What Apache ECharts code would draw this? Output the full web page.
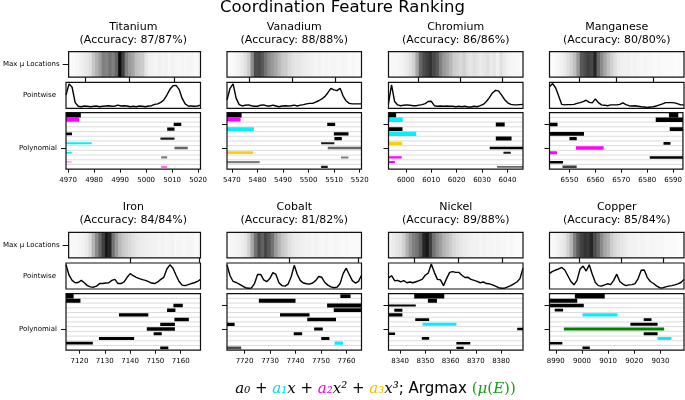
<!DOCTYPE html>
<html><head><meta charset="utf-8">
<script src="https://cdn.jsdelivr.net/npm/echarts@6/dist/echarts.min.js"></script>
<style>html,body{margin:0;padding:0;background:#fff}#c{width:685px;height:400px}</style>
</head><body><div id="c"></div>
<script>
// ---------------- data ----------------
const elements = ['Titanium','Vanadium','Chromium','Manganese','Iron','Cobalt','Nickel','Copper'];
const accuracy = ['87/87%','88/88%','86/86%','80/80%','84/84%','81/82%','89/88%','85/84%'];
const rowLabels = ['Max \u03bc Locations','Pointwise','Polynomial'];
const energyMin = [4969.2, 5468.1, 5993.2, 6542.3, 7114.7, 7713.1, 8335.4, 8987.6];
const energyMax = [5020.9, 5520.7, 6046.1, 6593.8, 7167.8, 7765.9, 8388.7, 9039.0];
const energyTicks = [
  [4970,4980,4990,5000,5010,5020],
  [5470,5480,5490,5500,5510,5520],
  [6000,6010,6020,6030,6040],
  [6550,6560,6570,6580,6590],
  [7120,7130,7140,7150,7160],
  [7720,7730,7740,7750,7760],
  [8340,8350,8360,8370,8380],
  [8990,9000,9010,9020,9030]
];
// tick positions of the location image (fraction of its width)
const heatTicks = [
  [0.127,0.463,0.799],[0.163,0.485,0.802],[0.222,0.531,0.844],[0.22,0.496,0.768],
  [0.469,0.993],[0.461,0.975],[0.191,0.519,0.846],[0.22,0.535,0.844]
];

// Max mu location density (0 = white, 1 = black)
const heatTitanium  = [0.01,0.02,0.03,0.05,0.07,0.09,0.12,0.22,0.3,0.38,0.5,0.48,0.55,0.5,0.6,0.95,0.75,0.5,0.4,0.35,0.25,0.22,0.2,0.1,0.06,0.05,0.04,0.06,0.04,0.05,0.03,0.05,0.04,0.03,0.04,0.03,0.04,0.03,0.02,0.03];
const heatVanadium  = [0.01,0.02,0.03,0.05,0.08,0.12,0.2,0.45,0.7,0.72,0.65,0.55,0.45,0.4,0.35,0.28,0.22,0.2,0.15,0.12,0.1,0.1,0.08,0.07,0.06,0.05,0.04,0.05,0.03,0.04,0.03,0.04,0.03,0.03,0.04,0.03,0.02,0.03,0.02,0.02];
const heatChromium  = [0.02,0.03,0.03,0.04,0.05,0.08,0.12,0.18,0.35,0.6,0.7,0.75,0.8,0.72,0.65,0.5,0.4,0.35,0.28,0.2,0.18,0.15,0.18,0.12,0.1,0.12,0.1,0.08,0.1,0.12,0.08,0.1,0.06,0.12,0.08,0.05,0.04,0.03,0.03,0.02];
const heatManganese = [0.01,0.02,0.03,0.05,0.08,0.12,0.18,0.25,0.4,0.65,0.7,0.75,0.72,0.85,0.6,0.45,0.35,0.25,0.18,0.12,0.08,0.06,0.05,0.06,0.04,0.05,0.04,0.03,0.04,0.03,0.03,0.02,0.03,0.02,0.02,0.02,0.02,0.01,0.02,0.01];
const heatIron      = [0.02,0.03,0.03,0.04,0.05,0.08,0.15,0.3,0.45,0.6,0.75,0.9,0.85,0.55,0.4,0.28,0.22,0.18,0.15,0.12,0.1,0.08,0.07,0.06,0.06,0.05,0.05,0.04,0.05,0.04,0.04,0.05,0.03,0.04,0.03,0.03,0.04,0.03,0.02,0.02];
const heatCobalt    = [0.02,0.03,0.04,0.05,0.07,0.1,0.18,0.35,0.55,0.7,0.62,0.72,0.65,0.55,0.4,0.3,0.22,0.18,0.12,0.1,0.08,0.07,0.06,0.05,0.05,0.04,0.05,0.04,0.03,0.04,0.03,0.03,0.04,0.03,0.02,0.03,0.02,0.02,0.02,0.02];
const heatNickel    = [0.05,0.08,0.1,0.12,0.18,0.3,0.42,0.5,0.55,0.65,0.85,0.9,0.75,0.55,0.45,0.38,0.3,0.25,0.2,0.15,0.12,0.1,0.08,0.07,0.06,0.05,0.05,0.04,0.05,0.04,0.04,0.03,0.04,0.03,0.03,0.02,0.03,0.02,0.02,0.02];
const heatCopper    = [0.02,0.03,0.05,0.07,0.1,0.18,0.3,0.5,0.65,0.75,0.8,0.78,0.85,0.7,0.6,0.45,0.35,0.3,0.2,0.15,0.12,0.1,0.08,0.06,0.05,0.05,0.04,0.05,0.04,0.03,0.04,0.03,0.03,0.03,0.02,0.02,0.02,0.02,0.01,0.01];

// Pointwise importance, sampled evenly across each energy window (normalised)
const pointTitanium  = [0.51,0.94,0.81,0.22,0.08,0.06,0.09,0.08,0.06,0.08,0.09,0.06,0.08,0.09,0.10,0.08,0.09,0.12,0.09,0.10,0.09,0.06,0.08,0.06,0.09,0.08,0.06,0.09,0.10,0.15,0.17,0.23,0.32,0.51,0.73,0.87,0.88,0.73,0.38,0.17,0.09,0.09,0.08,0.09,0.12];
const pointVanadium  = [0.32,0.77,0.94,0.38,0.14,0.09,0.12,0.13,0.10,0.08,0.08,0.12,0.13,0.09,0.09,0.12,0.09,0.06,0.09,0.10,0.09,0.10,0.12,0.09,0.12,0.14,0.17,0.19,0.19,0.24,0.29,0.36,0.45,0.60,0.77,0.71,0.68,0.77,0.47,0.28,0.19,0.17,0.17,0.17,0.17];
const pointChromium  = [0.19,0.90,0.26,0.13,0.10,0.12,0.13,0.12,0.10,0.10,0.12,0.14,0.18,0.26,0.27,0.10,0.08,0.09,0.08,0.09,0.08,0.08,0.06,0.08,0.06,0.08,0.05,0.05,0.08,0.06,0.10,0.15,0.26,0.41,0.59,0.69,0.67,0.51,0.33,0.21,0.15,0.13,0.13,0.14,0.15];
const pointManganese = [0.83,0.95,0.79,0.47,0.15,0.13,0.14,0.14,0.15,0.19,0.22,0.26,0.31,0.23,0.21,0.36,0.22,0.13,0.12,0.10,0.13,0.13,0.13,0.15,0.21,0.14,0.10,0.09,0.10,0.08,0.06,0.05,0.03,0.05,0.06,0.09,0.13,0.17,0.22,0.22,0.22,0.21,0.17,0.13,0.13];
const pointIron      = [0.93,0.53,0.33,0.24,0.25,0.33,0.24,0.13,0.08,0.07,0.11,0.21,0.21,0.23,0.24,0.33,0.37,0.21,0.21,0.27,0.45,0.59,0.51,0.45,0.40,0.36,0.33,0.28,0.23,0.21,0.27,0.37,0.45,0.77,0.93,0.80,0.53,0.29,0.15,0.13,0.17,0.21,0.24,0.29,0.37];
const pointCobalt    = [0.93,0.51,0.29,0.25,0.19,0.12,0.05,0.03,0.04,0.21,0.56,0.56,0.35,0.28,0.40,0.63,0.56,0.24,0.13,0.11,0.19,0.47,0.91,0.56,0.32,0.23,0.20,0.19,0.23,0.32,0.48,0.45,0.25,0.15,0.08,0.05,0.07,0.21,0.59,0.80,0.56,0.32,0.23,0.29,0.53];
const pointNickel    = [0.43,0.51,0.32,0.33,0.27,0.32,0.24,0.27,0.24,0.28,0.32,0.37,0.53,0.61,0.96,0.64,0.37,0.35,0.13,0.40,0.64,0.67,0.64,0.64,0.53,0.44,0.45,0.37,0.33,0.29,0.24,0.27,0.21,0.20,0.16,0.11,0.05,0.03,0.03,0.08,0.13,0.20,0.27,0.40,0.80];
const pointCopper    = [0.60,0.68,0.73,0.77,0.83,0.73,0.51,0.29,0.16,0.33,0.77,0.88,0.69,0.93,0.57,0.25,0.13,0.11,0.16,0.20,0.17,0.33,0.57,0.29,0.19,0.13,0.16,0.17,0.21,0.40,0.72,0.73,0.44,0.29,0.21,0.12,0.05,0.04,0.08,0.11,0.13,0.16,0.20,0.25,0.37];

// Polynomial ranking: one entry per rank row: [start eV, end eV, feature, importance, frequency]
const polyTitanium = [
  [4969.2,4974.9,'a0',1,1],[4969.2,4974.2,'a2',0.75,1],[5010.6,5013.5,'a0',0.6,1],[5008.1,5010.9,'a0',0.6,1],
  [4969.2,4971.5,'a0',0.5,1],[5005.5,5010.9,'a0',0.3,0.9],[4969.2,4979.1,'a1',0.25,1],[5010.9,5016.0,'a0',0.45,0.6],
  [4969.2,4971.4,'a1',0.3,1],[5005.8,5008.1,'a0',0.3,0.5],[4969.2,4971.4,'a2',0.3,0.3],[5005.8,5008.1,'a2',0.3,0.6]];
const polyVanadium = [
  [5468.1,5473.8,'a0',1,1],[5468.1,5473.4,'a2',0.7,1],[5507.3,5510.4,'a0',0.6,1],[5468.1,5478.6,'a1',0.75,1],
  [5509.9,5515.6,'a0',0.6,1],[5510.1,5513.0,'a0',0.55,1],[5504.9,5510.1,'a0',0.3,0.9],[5507.5,5520.7,'a0',0.35,0.6],
  [5468.1,5478.3,'a3',0.45,1],[5512.7,5515.6,'a0',0.25,0.5],[5468.1,5480.9,'a0',0.35,0.5],[5504.9,5507.5,'a0',0.3,0.9]];
const polyChromium = [
  [5993.2,5996.2,'a0',1,1],[5993.2,5998.8,'a1',0.9,1],[6035.4,6038.9,'a0',0.8,1],[5993.2,5998.7,'a0',0.7,1],
  [5993.2,6004.1,'a1',0.8,1],[6035.4,6041.6,'a0',0.8,1],[5993.2,5998.6,'a3',0.6,1],[6033.0,6046.1,'a0',0.4,1],
  [6038.4,6041.3,'a0',0.3,0.9],[5993.2,5998.4,'a2',0.3,1],[5993.2,5995.7,'a2',0.35,1],[6035.9,6046.1,'a0',0.2,0.6]];
const polyManganese = [
  [6588.4,6592.0,'a0',1,1],[6583.3,6593.8,'a0',0.9,1],[6542.3,6545.4,'a0',0.7,1],[6588.7,6593.8,'a0',0.7,1],
  [6542.3,6555.6,'a0',0.75,1],[6550.0,6552.8,'a0',0.55,1],[6586.3,6589.0,'a0',0.45,1],[6552.5,6563.2,'a2',0.6,1],
  [6542.3,6545.2,'a2',0.5,1],[6581.0,6593.8,'a0',0.4,1],[6542.3,6547.5,'a0',0.4,1],[6547.3,6552.8,'a0',0.4,0.75]];
const polyIron = [
  [7114.7,7117.7,'a0',1,1],[7114.7,7120.4,'a0',0.75,1],[7157.1,7160.8,'a0',0.65,1],[7154.6,7157.9,'a0',0.65,1],
  [7135.6,7147.2,'a0',0.65,1],[7157.5,7163.2,'a0',0.65,1],[7151.9,7157.7,'a0',0.6,1],[7146.6,7157.7,'a0',0.6,1],
  [7149.3,7152.5,'a0',0.55,1],[7127.7,7141.6,'a0',0.55,1],[7114.7,7125.3,'a0',0.5,1],[7151.9,7155.1,'a0',0.45,1]];
const polyCobalt = [
  [7757.6,7761.6,'a0',0.7,1],[7725.6,7740.0,'a0',0.75,1],[7752.4,7765.9,'a0',0.75,1],[7755.0,7765.9,'a0',0.75,1],
  [7733.9,7745.5,'a0',0.65,1],[7744.6,7755.9,'a0',0.65,1],[7713.1,7716.1,'a0',0.6,1],[7747.3,7750.7,'a0',0.55,1],
  [7739.3,7742.6,'a0',0.55,1],[7750.1,7753.3,'a0',0.55,1],[7755.3,7758.6,'a1',0.55,1],[7713.1,7718.7,'a0',0.45,0.7]];
const polyNickel = [
  [8345.6,8357.5,'a0',1,1],[8351.0,8354.6,'a0',0.75,1],[8335.4,8346.2,'a0',0.3,1],[8337.7,8340.9,'a0',0.55,1],
  [8335.4,8340.9,'a0',0.55,1],[8346.0,8351.5,'a0',0.45,1],[8348.9,8362.3,'a1',0.55,1],[8386.4,8388.7,'a0',0.45,1],
  [8335.4,8338.0,'a0',0.35,1],[8348.6,8351.5,'a0',0.45,1],[8362.3,8367.8,'a0',0.4,1],[8362.3,8365.2,'a0',0.35,1]];
const polyCopper = [
  [8997.3,9008.7,'a0',1,1],[8987.6,8998.2,'a0',0.75,1],[8987.6,9000.7,'a0',0.65,1],[8989.6,8992.8,'a0',0.45,1],
  [9000.2,9013.6,'a1',0.55,1],[9023.6,9026.6,'a0',0.5,1],[9018.5,9028.9,'a0',0.5,1],[8993.1,9031.4,'max',0.5,1],
  [9023.6,9028.9,'a0',0.5,1],[9028.9,9034.2,'a1',0.5,1],[8987.6,8992.5,'a0',0.4,1],[9000.2,9003.0,'a0',0.4,1]];

// ---------------- styling / layout ----------------
const featureColors = {a0:'#000000', a1:'#00f0ff', a2:'#ff00ff', a3:'#ffd000', max:'#008000'};
const heats = [heatTitanium,heatVanadium,heatChromium,heatManganese,heatIron,heatCobalt,heatNickel,heatCopper];
const points = [pointTitanium,pointVanadium,pointChromium,pointManganese,pointIron,pointCobalt,pointNickel,pointCopper];
const polys = [polyTitanium,polyVanadium,polyChromium,polyManganese,polyIron,polyCobalt,polyNickel,polyCopper];
const NROWS = 12;
const colLeft = [66, 227, 388.5, 549.5];
const colW = 134.5;
const rowTops = [[51.7, 82.3, 112.7], [232.3, 263, 293.7]];
const panelH = [25.5, 26, 56.5];
const FONT = 'DejaVu Sans';

const grids = [], xAxes = [], yAxes = [], series = [], titles = [];
titles.push({text:'Coordination Feature Ranking', left:342.5, top:-1, textAlign:'center', padding:0,
  textStyle:{fontFamily:FONT, fontSize:16.5, fontWeight:'normal', color:'#000'}});

function hiddenAxis() {
  return {axisLine:{show:false, onZero:false}, axisTick:{show:false}, axisLabel:{show:false}, splitLine:{show:false}};
}

elements.forEach((name, e) => {
  const c = e % 4, r = Math.floor(e / 4);
  const xmin = energyMin[e], xmax = energyMax[e];
  const g0 = e * 3, g1 = g0 + 1, g2 = g0 + 2;
  for (let k = 0; k < 3; k++) {
    grids.push({left:colLeft[c], top:rowTops[r][k], width:colW, height:panelH[k], show:true,
      borderColor:'#111', borderWidth:1.2, backgroundColor:'transparent', z:5});
  }
  titles.push({text: name + '\n(Accuracy: ' + accuracy[e] + ')', left: colLeft[c] + colW / 2,
    top: r === 0 ? 20 : 200.6, textAlign:'center', padding:0,
    textStyle:{fontFamily:FONT, fontSize:11, fontWeight:'normal', color:'#000', lineHeight:13.3}});

  // ---- location image panel
  xAxes.push(Object.assign(hiddenAxis(), {gridIndex:g0, type:'value', min:0, max:1,
    axisTick:{show:true, length:5, customValues:heatTicks[e], lineStyle:{color:'#111', width:1.2}}}));
  yAxes.push(Object.assign(hiddenAxis(), {gridIndex:g0, type:'value', min:0, max:1}, c === 0 ? {
    axisTick:{show:true, length:6, customValues:[0.5], lineStyle:{color:'#111', width:1}},
    axisLabel:{show:true, customValues:[0.5], formatter:() => rowLabels[0], fontFamily:FONT, fontSize:7, color:'#000', margin:9}} : {}));
  const heat = heats[e];
  series.push({type:'custom', xAxisIndex:g0, yAxisIndex:g0, silent:true, clip:true,
    data: heat.map((v, i) => [(i + 0.5) / heat.length, v]),
    renderItem: (p, api) => {
      const i = p.dataIndex, n = heat.length, v = heat[i];
      const a = api.coord([i / n, 1]), b = api.coord([(i + 1) / n, 0]);
      const gv = Math.round(255 * (1 - v));
      return {type:'rect', shape:{x:a[0], y:a[1], width:b[0] - a[0] + 0.6, height:b[1] - a[1]},
        style:{fill:'rgb(' + gv + ',' + gv + ',' + gv + ')'}};
    }});

  // ---- pointwise panel
  xAxes.push(Object.assign(hiddenAxis(), {gridIndex:g1, type:'value', min:xmin, max:xmax}));
  yAxes.push(Object.assign(hiddenAxis(), {gridIndex:g1, type:'value', min:0, max:1}, c === 0 ? {
    axisLabel:{show:true, customValues:[0.5], formatter:() => rowLabels[1], fontFamily:FONT, fontSize:7, color:'#000', margin:10}} : {}));
  const pts = points[e];
  series.push({type:'line', xAxisIndex:g1, yAxisIndex:g1, silent:true, symbol:'none', clip:true,
    data: pts.map((v, i) => [xmin + i * (xmax - xmin) / (pts.length - 1), v]),
    lineStyle:{color:'#000', width:1.4}});

  // ---- polynomial panel
  const ticks = energyTicks[e];
  xAxes.push(Object.assign(hiddenAxis(), {gridIndex:g2, type:'value', min:xmin, max:xmax,
    axisTick:{show:true, length:3.5, customValues:ticks, lineStyle:{color:'#111', width:1}},
    axisLabel:{show:true, customValues:ticks, formatter:v => String(v), fontFamily:FONT, fontSize:7, color:'#000', margin:7.5}}));
  yAxes.push(Object.assign(hiddenAxis(), {gridIndex:g2, type:'value', min:0, max:NROWS, inverse:true,
    axisTick:{show:true, length:5, customValues: c === 0 ? [7.5] : [2.5, 7.5], lineStyle:{color:'#111', width:1}}},
    c === 0 ? {axisLabel:{show:true, customValues:[7.5], formatter:() => rowLabels[2], fontFamily:FONT, fontSize:7, color:'#000', margin:9}} : {}));
  const sepRows = [];
  for (let k = 1; k < NROWS; k++) sepRows.push([xmin, k]);
  series.push({type:'custom', xAxisIndex:g2, yAxisIndex:g2, silent:true, clip:true, data:sepRows,
    renderItem: (p, api) => {
      const k = api.value(1);
      const a = api.coord([xmin, k]), b = api.coord([xmax, k]);
      return {type:'line', shape:{x1:a[0], y1:a[1], x2:b[0], y2:b[1]}, style:{stroke:'#dcdcdc', lineWidth:1}};
    }});
  const segs = polys[e];
  series.push({type:'custom', xAxisIndex:g2, yAxisIndex:g2, silent:true, clip:true,
    data: segs.map((s, k) => [s[0], s[1], k + 0.5]), encode:{x:[0, 1], y:2},
    renderItem: (p, api) => {
      const s = segs[p.dataIndex], k = p.dataIndex + 0.5;
      const a = api.coord([s[0], k]), b = api.coord([s[1], k]);
      const t = 1 + 3.8 * s[3];
      return {type:'rect', shape:{x:a[0], y:a[1] - t / 2, width:b[0] - a[0], height:t},
        style:{fill:featureColors[s[2]], opacity:s[4]}};
    }});
});

// formula caption
const mi = {fontFamily:'DejaVu Serif', fontStyle:'italic', fontWeight:'normal', fontSize:15};
titles.push({
  text:'{m|a\u2080}{o| + }{c|a\u2081}{m|x}{o| + }{p|a\u2082}{m|x\u00b2}{o| + }{y|a\u2083}{m|x\u00b3}{o|; Argmax }{gu|(}{g|\u03bc}{gu|(}{g|E}{gu|))}',
  left:375.5, top:381.5, textAlign:'center', padding:0,
  textStyle:{fontSize:15, fontWeight:'normal', rich:{
    m:{...mi, color:'#000'}, c:{...mi, color:'#00d8ec'}, p:{...mi, color:'#ee00ee'}, y:{...mi, color:'#f0c000'},
    g:{...mi, color:'#1a9a1a'}, gu:{fontFamily:'DejaVu Serif', fontWeight:'normal', fontSize:15, color:'#1a9a1a'},
    o:{fontFamily:FONT, fontWeight:'normal', fontSize:15, color:'#000'}
  }}
});

const chart = echarts.init(document.getElementById('c'), null, {renderer:'canvas'});
chart.setOption({animation:false, backgroundColor:'#fff', title:titles, grid:grids, xAxis:xAxes, yAxis:yAxes, series:series});
</script>
</body></html>
